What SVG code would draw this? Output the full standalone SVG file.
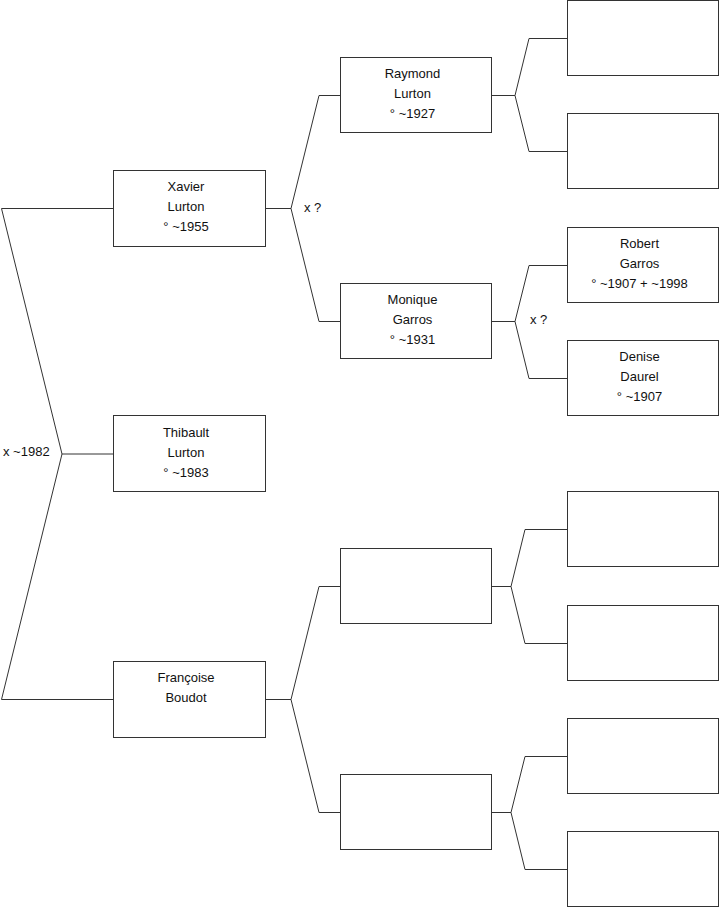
<svg xmlns="http://www.w3.org/2000/svg" width="719" height="908" viewBox="0 0 719 908">
<style>
.box{fill:#fff;stroke:#333;stroke-width:1}
.con{fill:none;stroke:#333;stroke-width:1}
text{font-family:"Liberation Sans",Arial,sans-serif;font-size:13px;fill:#111}
.c{text-anchor:middle}
</style>
<rect width="719" height="908" fill="#fff"/>
<g id="connectors">
<polyline class="con" points="113.5,208.5 1.5,208.5 62,454 1.5,699.5 113.5,699.5"/>
<line class="con" x1="62" y1="454" x2="113.5" y2="454"/>
<line class="con" x1="265.5" y1="208.5" x2="291" y2="208.5"/>
<polyline class="con" points="340.5,95.5 319,95.5 291,208.5 319,321.5 340.5,321.5"/>
<line class="con" x1="491.5" y1="95.5" x2="515" y2="95.5"/>
<polyline class="con" points="567.5,38.5 529,38.5 515,95.5 529,151.5 567.5,151.5"/>
<line class="con" x1="491.5" y1="321.5" x2="515" y2="321.5"/>
<polyline class="con" points="567.5,265.5 529,265.5 515,321.5 529,378.5 567.5,378.5"/>
<line class="con" x1="265.5" y1="699.5" x2="291" y2="699.5"/>
<polyline class="con" points="340.5,586.5 319,586.5 291,699.5 319,812.5 340.5,812.5"/>
<line class="con" x1="491.5" y1="586.5" x2="511" y2="586.5"/>
<polyline class="con" points="567.5,529.5 525,529.5 511,586.5 525,643.5 567.5,643.5"/>
<line class="con" x1="491.5" y1="812.5" x2="511" y2="812.5"/>
<polyline class="con" points="567.5,756.5 525,756.5 511,812.5 525,869.5 567.5,869.5"/>
<text x="3" y="456">x ~1982</text>
<text x="304" y="212">x ?</text>
<text x="530" y="324">x ?</text>
</g>
<g id="xavier"><rect class="box" x="113.5" y="170.5" width="152" height="76"/>
<text class="c" x="186" y="191">Xavier</text><text class="c" x="186" y="211">Lurton</text><text class="c" x="186" y="231">° ~1955</text></g>
<g id="thibault"><rect class="box" x="113.5" y="415.5" width="152" height="76"/>
<text class="c" x="186" y="437">Thibault</text><text class="c" x="186" y="457">Lurton</text><text class="c" x="186" y="477">° ~1983</text></g>
<g id="francoise"><rect class="box" x="113.5" y="661.5" width="152" height="76"/>
<text class="c" x="186" y="682">Françoise</text><text class="c" x="186" y="702">Boudot</text></g>
<g id="raymond"><rect class="box" x="340.5" y="57.5" width="151" height="75"/>
<text class="c" x="412.5" y="78">Raymond</text><text class="c" x="412.5" y="98">Lurton</text><text class="c" x="412.5" y="118">° ~1927</text></g>
<g id="monique"><rect class="box" x="340.5" y="283.5" width="151" height="75"/>
<text class="c" x="412.5" y="304">Monique</text><text class="c" x="412.5" y="324">Garros</text><text class="c" x="412.5" y="344">° ~1931</text></g>
<g id="empty-f1"><rect class="box" x="340.5" y="548.5" width="151" height="75"/></g>
<g id="empty-f2"><rect class="box" x="340.5" y="774.5" width="151" height="75"/></g>
<g id="empty-r1"><rect class="box" x="567.5" y="0.5" width="151" height="75"/></g>
<g id="empty-r2"><rect class="box" x="567.5" y="113.5" width="151" height="75"/></g>
<g id="robert"><rect class="box" x="567.5" y="227.5" width="151" height="75"/>
<text class="c" x="639.5" y="248">Robert</text><text class="c" x="639.5" y="268">Garros</text><text class="c" x="639.5" y="288">° ~1907 + ~1998</text></g>
<g id="denise"><rect class="box" x="567.5" y="340.5" width="151" height="75"/>
<text class="c" x="639.5" y="361">Denise</text><text class="c" x="639.5" y="381">Daurel</text><text class="c" x="639.5" y="401">° ~1907</text></g>
<g id="empty-a1"><rect class="box" x="567.5" y="491.5" width="151" height="75"/></g>
<g id="empty-a2"><rect class="box" x="567.5" y="605.5" width="151" height="75"/></g>
<g id="empty-b1"><rect class="box" x="567.5" y="718.5" width="151" height="75"/></g>
<g id="empty-b2"><rect class="box" x="567.5" y="831.5" width="151" height="75"/></g>
</svg>
